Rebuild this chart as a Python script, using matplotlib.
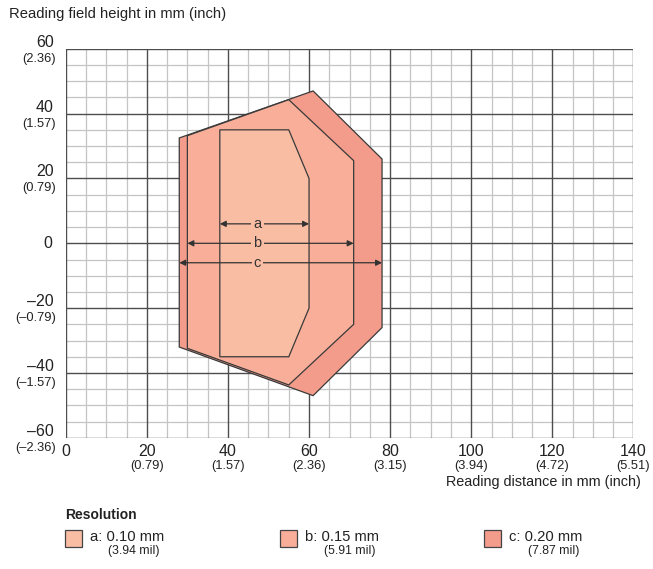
import matplotlib
matplotlib.use("Agg")
import matplotlib.pyplot as plt
from matplotlib.patches import Polygon, Rectangle
from matplotlib.transforms import blended_transform_factory, offset_copy
import numpy as np

plt.rcParams['font.family'] = ['Liberation Sans', 'DejaVu Sans']

# ---- data ----
x_ticks = [0, 20, 40, 60, 80, 100, 120, 140]
x_tick_inch = ["", "(0.79)", "(1.57)", "(2.36)", "(3.15)", "(3.94)", "(4.72)", "(5.51)"]
y_ticks = [60, 40, 20, 0, -20, -40, -60]
y_tick_labels = ["60", "40", "20", "0", "–20", "–40", "–60"]
y_tick_inch = ["(2.36)", "(1.57)", "(0.79)", "", "(–0.79)", "(–1.57)", "(–2.36)"]

field_c_x = [28, 61, 78, 78, 61, 28]
field_c_y = [32.5, 47, 26, -26, -47, -32]
field_b_x = [30, 55, 71, 71, 55, 30]
field_b_y = [33.2, 44.3, 25.5, -25, -43.7, -32.4]
field_a_x = [38, 55, 60, 60, 55, 38]
field_a_y = [35, 35, 20, -20, -35, -35]

arrow_names = ["a", "b", "c"]
arrow_y = [6, 0, -6]
arrow_x0 = [38, 30, 28]
arrow_x1 = [60, 71, 78]
label_x = 47.3

legend_labels = ["a: 0.10 mm", "b: 0.15 mm", "c: 0.20 mm"]
legend_sub = ["(3.94 mil)", "(5.91 mil)", "(7.87 mil)"]
colors = ["#F9BDA3", "#F8AE98", "#F49C8B"]

# ---- figure ----
fig = plt.figure(figsize=(6.53, 5.69), dpi=100)
W, H = 653, 569
ax = fig.add_axes([65.7 / W, 1 - 437.8 / H, (633.5 - 65.7) / W, (437.8 - 48.8) / H])
ax.set_xlim(0, 140)
ax.set_ylim(-60, 60)

# grid
for xv in np.arange(0, 141, 5):
    major = xv % 20 == 0
    ax.axvline(xv, color="#4d4d4d" if major else "#c4c4c4", lw=1.0 if major else 0.9,
               zorder=1.5 if major else 1)
for yv in np.arange(-60, 61, 5):
    major = yv % 20 == 0
    ax.axhline(yv, color="#4d4d4d" if major else "#c4c4c4", lw=1.0 if major else 0.9,
               zorder=1.5 if major else 1)
for s in ax.spines.values():
    s.set_visible(False)
ax.set_xticks([])
ax.set_yticks([])

# fields
ec = "#3a3a3a"
ax.add_patch(Polygon(list(zip(field_c_x, field_c_y)), closed=True, fc=colors[2], ec=ec, lw=0.9, zorder=3))
ax.add_patch(Polygon(list(zip(field_b_x, field_b_y)), closed=True, fc=colors[1], ec=ec, lw=0.9, zorder=4))
ax.add_patch(Polygon(list(zip(field_a_x, field_a_y)), closed=True, fc=colors[0], ec=ec, lw=0.9, zorder=5))

for name, yv, x0, x1 in zip(arrow_names, arrow_y, arrow_x0, arrow_x1):
    ax.annotate("", xy=(x0, yv), xytext=(x1, yv),
                arrowprops=dict(arrowstyle="<|-|>", color="#333333", lw=0.9,
                                mutation_scale=9, shrinkA=0, shrinkB=0), zorder=6)
    ax.text(label_x, yv, name, ha="center", va="center", fontsize=10.5, color="#333333",
            bbox=dict(fc=colors[0], ec="none", pad=1.5), zorder=7)

# tick labels
tx = blended_transform_factory(ax.transData, ax.transAxes)
ty = blended_transform_factory(ax.transAxes, ax.transData)
MAIN_FS, INCH_FS = 11.5, 9.3
for xv, ins in zip(x_ticks, x_tick_inch):
    ax.text(xv, 0, str(xv), transform=offset_copy(tx, fig=fig, x=0, y=-14, units="dots"),
            ha="center", va="center", fontsize=MAIN_FS, color="#222222")
    if ins:
        ax.text(xv, 0, ins, transform=offset_copy(tx, fig=fig, x=0, y=-28, units="dots"),
                ha="center", va="center", fontsize=INCH_FS, color="#222222")
for yv, lab, ins in zip(y_ticks, y_tick_labels, y_tick_inch):
    if ins:
        ax.text(0, yv, lab, transform=offset_copy(ty, fig=fig, x=-12, y=6.5, units="dots"),
                ha="right", va="center", fontsize=MAIN_FS, color="#222222")
        ax.text(0, yv, ins, transform=offset_copy(ty, fig=fig, x=-10, y=-10, units="dots"),
                ha="right", va="center", fontsize=INCH_FS, color="#222222")
    else:
        ax.text(0, yv, lab, transform=offset_copy(ty, fig=fig, x=-13, y=0, units="dots"),
                ha="right", va="center", fontsize=MAIN_FS, color="#222222")

# axis titles
fig.text(9 / W, 1 - 14 / H, "Reading field height in mm (inch)", ha="left", va="center",
         fontsize=10.6, color="#222222")
fig.text(641 / W, 1 - 482 / H, "Reading distance in mm (inch)", ha="right", va="center",
         fontsize=10.4, color="#222222")

# legend
fig.text(65 / W, 1 - 515 / H, "Resolution", ha="left", va="center", fontsize=10,
         fontweight="bold", color="#222222")
legend_x = [65, 280, 484]
for lx, lab, sub, col in zip(legend_x, legend_labels, legend_sub, colors):
    fig.add_artist(Rectangle((lx / W, 1 - 547 / H), 17 / W, 17 / H, transform=fig.transFigure,
                             fc=col, ec="#444444", lw=0.9))
    fig.text((lx + 25) / W, 1 - 537 / H, lab, ha="left", va="center", fontsize=10.6, color="#222222")
    fig.text((lx + 95) / W, 1 - 551 / H, sub, ha="right", va="center", fontsize=8.8, color="#222222")

fig.savefig("out.png", dpi=100)
